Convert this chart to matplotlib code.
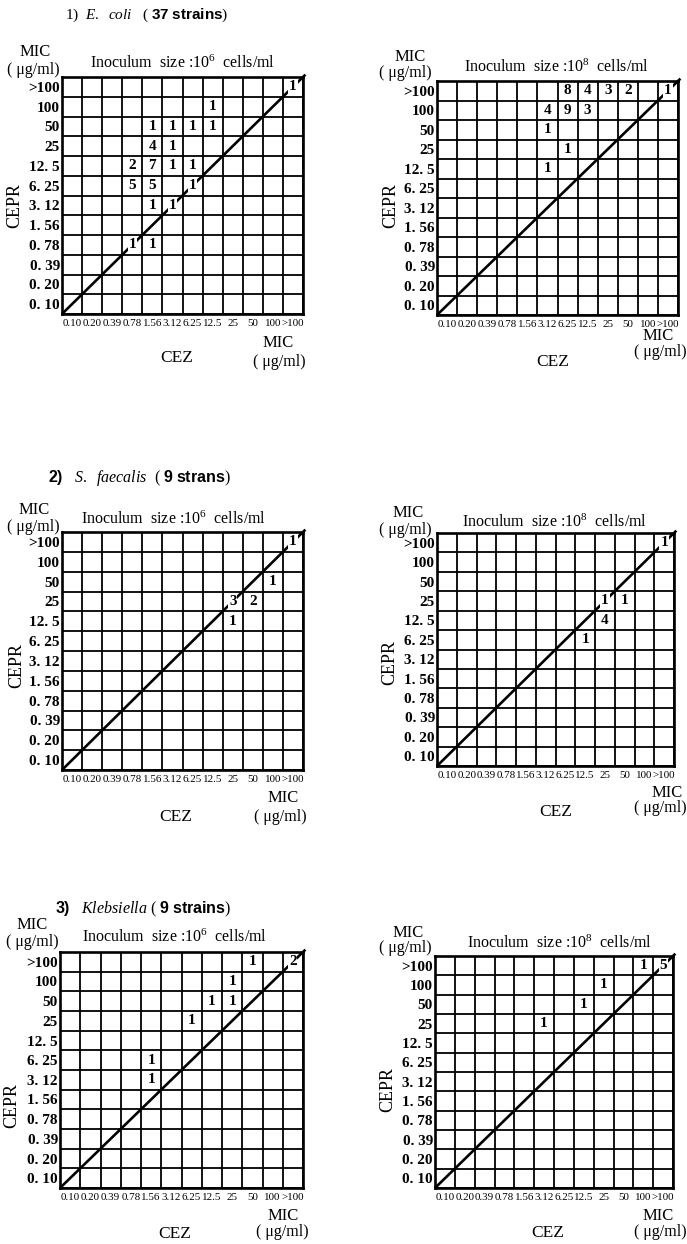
import numpy as np
import matplotlib
matplotlib.use("Agg")
import matplotlib.pyplot as plt

plt.rcParams["font.family"] = ["Liberation Serif", "DejaVu Serif"]
plt.rcParams["mathtext.fontset"] = "custom"
plt.rcParams["mathtext.rm"] = "Liberation Serif"
plt.rcParams["mathtext.it"] = "Liberation Serif:italic"
plt.rcParams["mathtext.bf"] = "Liberation Serif:bold"
plt.rcParams["mathtext.sf"] = "Liberation Sans:bold"

# MIC dilution steps (µg/ml), shared by both axes
mic_levels = ["0.10", "0.20", "0.39", "0.78", "1.56", "3.12",
              "6.25", "12.5", "25", "50", "100", ">100"]
y_tick_labels = [">100" if m == ">100" else m.replace(".", ". ") for m in mic_levels]

# Number of strains per (CEZ MIC, CEPR MIC) cell
ecoli_e6_cez = [">100", "12.5", "1.56", "3.12", "6.25", "12.5", "1.56", "3.12",
                "0.78", "1.56", "3.12", "6.25", "0.78", "1.56", "6.25",
                "1.56", "3.12", "0.78", "1.56"]
ecoli_e6_cepr = [">100", "100", "50", "50", "50", "50", "25", "25",
                 "12.5", "12.5", "12.5", "12.5", "6.25", "6.25", "6.25",
                 "3.12", "3.12", "0.78", "0.78"]
ecoli_e6_n = [1, 1, 1, 1, 1, 1, 4, 1, 2, 7, 1, 1, 5, 5, 1, 1, 1, 1, 1]

ecoli_e8_cez = ["6.25", "12.5", "25", "50", ">100", "3.12", "6.25", "12.5",
                "3.12", "6.25", "3.12"]
ecoli_e8_cepr = [">100", ">100", ">100", ">100", ">100", "100", "100", "100",
                 "50", "25", "12.5"]
ecoli_e8_n = [8, 4, 3, 2, 1, 4, 9, 3, 1, 1, 1]

faecalis_e6_cez = [">100", "100", "25", "50", "25"]
faecalis_e6_cepr = [">100", "50", "25", "25", "12.5"]
faecalis_e6_n = [1, 1, 3, 2, 1]

faecalis_e8_cez = [">100", "25", "50", "25", "12.5"]
faecalis_e8_cepr = [">100", "25", "25", "12.5", "6.25"]
faecalis_e8_n = [1, 1, 1, 4, 1]

kleb_e6_cez = ["50", ">100", "25", "12.5", "25", "6.25", "1.56", "1.56"]
kleb_e6_cepr = [">100", ">100", "100", "50", "50", "25", "6.25", "3.12"]
kleb_e6_n = [1, 2, 1, 1, 1, 1, 1, 1]

kleb_e8_cez = ["100", ">100", "25", "12.5", "3.12"]
kleb_e8_cepr = [">100", ">100", "100", "50", "25"]
kleb_e8_n = [1, 5, 1, 1, 1]

W, H = 687, 1244
fig = plt.figure(figsize=(W / 100, H / 100), dpi=100)
fig.patch.set_facecolor("white")


def fpos(x, y):
    return x / W, 1 - y / H


def ftext(x, y, s, **kw):
    kw.setdefault("ha", "center")
    kw.setdefault("va", "center")
    fig.text(*fpos(x, y), s, **kw)


def panel(box, cez, cepr, counts, inoc, lab):
    x0, y0, x1, y1 = box
    ax = fig.add_axes([x0 / W, 1 - y1 / H, (x1 - x0) / W, (y1 - y0) / H])
    ax.set_xlim(0, 12)
    ax.set_ylim(0, 12)
    ax.set_xticks(np.arange(12) + 0.5, labels=mic_levels)
    ax.set_yticks(np.arange(12) + 0.5, labels=y_tick_labels)
    ax.set_xticks(np.arange(13), minor=True)
    ax.set_yticks(np.arange(13), minor=True)
    ax.grid(which="minor", color="black", lw=1.3)
    ax.tick_params(which="both", length=0)
    ax.tick_params(axis="x", labelsize=7.9, pad=3.5)
    ax.tick_params(axis="y", labelsize=11, pad=1.5)
    for t in ax.get_yticklabels():
        t.set_fontweight("bold")
    for sp in ax.spines.values():
        sp.set_linewidth(1.9)
    ax.set_axisbelow(True)
    ax.plot([0, 12.12], [0, 12.12], color="black", lw=1.9, clip_on=False,
            zorder=3, solid_capstyle="butt")
    for cx, cy, n in zip(cez, cepr, counts):
        i = mic_levels.index(cx)
        j = mic_levels.index(cy)
        kw = {}
        if i == j:
            kw["bbox"] = dict(facecolor="white", edgecolor="none", pad=0.6)
        ax.text(i + 0.5, j + 0.5, str(n), ha="center", va="center",
                fontsize=11, fontweight="bold", zorder=4, **kw)

    # surrounding labels
    ftext(lab["mic"][0], lab["mic"][1], "MIC", fontsize=12)
    ftext(lab["unit"][0], lab["unit"][1], "( μg/ml)", fontsize=11.5)
    ftext(lab["inoc"][0], lab["inoc"][1],
          r"Inoculum  size $\colon$10$^{%d}$  cells/ml" % inoc, fontsize=11.5)
    ftext(lab["cepr"][0], lab["cepr"][1], "CEPR", fontsize=13, rotation=90)
    ftext(lab["mic2"][0], lab["mic2"][1], "MIC", fontsize=12)
    ftext(lab["unit2"][0], lab["unit2"][1], "( μg/ml)", fontsize=11.5)
    ftext(lab["cez"][0], lab["cez"][1], "CEZ", fontsize=12.5)
    return ax


# Section headings
ftext(65, 15, r"1)  $\mathit{E.\ \ coli}$   ( $\mathsf{37\ strains}$)", fontsize=11, ha="left")
ftext(48, 478, r"$\mathsf{2)}$   $\mathit{S.\ \ faecalis}$  ( $\mathsf{9\ strans}$)", fontsize=11.5, ha="left")
ftext(55, 909, r"$\mathsf{3)}$   $\mathit{Klebsiella}$ ( $\mathsf{9\ strains}$)", fontsize=11.5, ha="left")

panel((62, 77, 303, 314), ecoli_e6_cez, ecoli_e6_cepr, ecoli_e6_n, 6,
      dict(mic=(35, 52), unit=(33, 70), inoc=(183, 63), cepr=(15, 206),
           mic2=(278, 343), unit2=(279, 362), cez=(177, 358)))
panel((437, 81, 678, 315), ecoli_e8_cez, ecoli_e8_cepr, ecoli_e8_n, 8,
      dict(mic=(410, 57), unit=(405, 73), inoc=(557, 67), cepr=(391, 205),
           mic2=(658, 336), unit2=(660, 352), cez=(553, 362)))
panel((62, 532, 303, 770), faecalis_e6_cez, faecalis_e6_cepr, faecalis_e6_n, 6,
      dict(mic=(34, 510), unit=(33, 527), inoc=(174, 519), cepr=(17, 665),
           mic2=(283, 798), unit2=(280, 817), cez=(176, 817)))
panel((437, 533, 674, 766), faecalis_e8_cez, faecalis_e8_cepr, faecalis_e8_n, 8,
      dict(mic=(408, 513), unit=(405, 530), inoc=(555, 522), cepr=(390, 663),
           mic2=(667, 793), unit2=(660, 808), cez=(556, 812)))
panel((60, 952, 303, 1188), kleb_e6_cez, kleb_e6_cepr, kleb_e6_n, 6,
      dict(mic=(32, 925), unit=(32, 942), inoc=(175, 937), cepr=(12, 1105),
           mic2=(283, 1216), unit2=(282, 1232), cez=(175, 1234)))
panel((435, 956, 673, 1188), kleb_e8_cez, kleb_e8_cepr, kleb_e8_n, 8,
      dict(mic=(408, 933), unit=(405, 948), inoc=(560, 943), cepr=(388, 1090),
           mic2=(658, 1216), unit2=(660, 1232), cez=(548, 1233)))

fig.savefig("out.png", dpi=100, facecolor="white")
